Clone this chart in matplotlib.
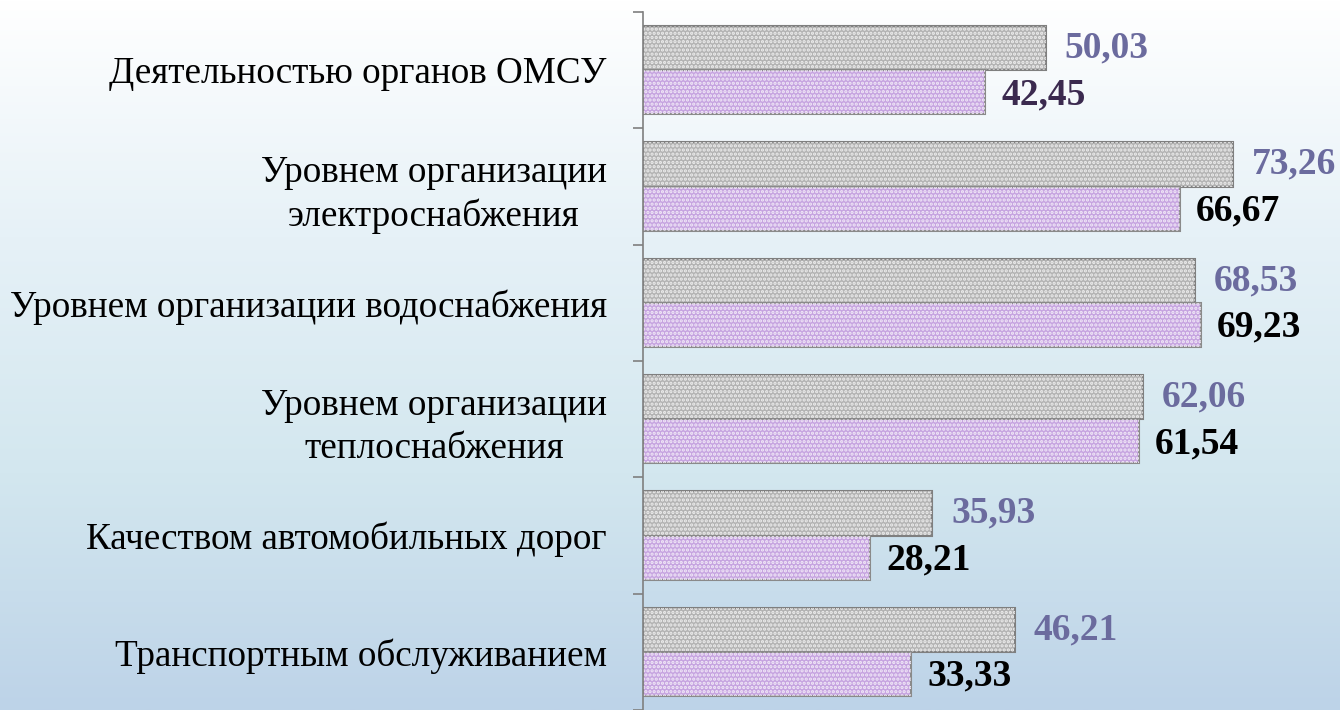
import numpy as np
from matplotlib import pyplot as plt
from matplotlib.colors import LinearSegmentedColormap

categories = ['Деятельностью органов ОМСУ',
              'Уровнем организации\nэлектроснабжения',
              'Уровнем организации водоснабжения',
              'Уровнем организации\nтеплоснабжения',
              'Качеством автомобильных дорог',
              'Транспортным обслуживанием']
series_a = [50.03, 73.26, 68.53, 62.06, 35.93, 46.21]
series_b = [42.45, 66.67, 69.23, 61.54, 28.21, 33.33]
labels_a = ['50,03', '73,26', '68,53', '62,06', '35,93', '46,21']
labels_b = ['42,45', '66,67', '69,23', '61,54', '28,21', '33,33']
colors_b = ['#3b2a4f', 'black', 'black', 'black', 'black', 'black']

plt.rcParams['font.family'] = ['Liberation Serif', 'DejaVu Serif']
plt.rcParams['hatch.linewidth'] = 1.6

fig = plt.figure(figsize=(13.4, 7.1), dpi=100)

# фон с градиентом
bg = fig.add_axes([0, 0, 1, 1], zorder=-10)
grad = np.linspace(0, 1, 256).reshape(-1, 1)
cmap = LinearSegmentedColormap.from_list('bg', ['#ffffff', '#e6f1f7', '#d3e7ef', '#bdd3e8'])
bg.imshow(grad, aspect='auto', cmap=cmap, extent=[0, 1, 0, 1])
bg.axis('off')

ax = fig.add_axes([643 / 1340, 0, 1 - 643 / 1340, 1 - 12 / 710])
ax.patch.set_alpha(0)

n = len(categories)
y = np.arange(n)
h = 0.38

ax.barh(y - h / 2, series_a, height=h, color='#b3b3b3', edgecolor='#7f7f7f', linewidth=1.5)
ax.barh(y - h / 2, series_a, height=h, color='none', edgecolor='#eeeeee', hatch='....', linewidth=0)
ax.barh(y + h / 2, series_b, height=h, color='#c6a4e0', edgecolor='#8a8a8a', linewidth=1.5)
ax.barh(y + h / 2, series_b, height=h, color='none', edgecolor='#f2eaf8', hatch='....', linewidth=0)

for i in range(n):
    ax.text(series_a[i] + 2.3, y[i] - h / 2, labels_a[i], va='center', ha='left',
            fontsize=27, fontweight='bold', color='#6b6b9e')
    ax.text(series_b[i] + 2.0, y[i] + h / 2 + 0.02, labels_b[i], va='center', ha='left',
            fontsize=27, fontweight='bold', color=colors_b[i])

ax.set_ylim(n - 0.5, -0.5)
ax.set_xlim(0, (1340 - 643) / 8.055)

ax.set_yticks(np.arange(n + 1) - 0.5)
ax.set_yticklabels([])
ax.set_yticks(y, minor=True)
ax.set_yticklabels(categories, minor=True, fontsize=26.7, multialignment='center', linespacing=1.3)
ax.tick_params(axis='y', which='major', length=7, width=1.2, color='#7f7f7f')
ax.tick_params(axis='y', which='minor', length=0, pad=26)
ax.set_xticks([])

for s in ['top', 'right', 'bottom']:
    ax.spines[s].set_visible(False)
ax.spines['left'].set_color('#7f7f7f')
ax.spines['left'].set_linewidth(1.2)

plt.savefig('out.png', dpi=100)
